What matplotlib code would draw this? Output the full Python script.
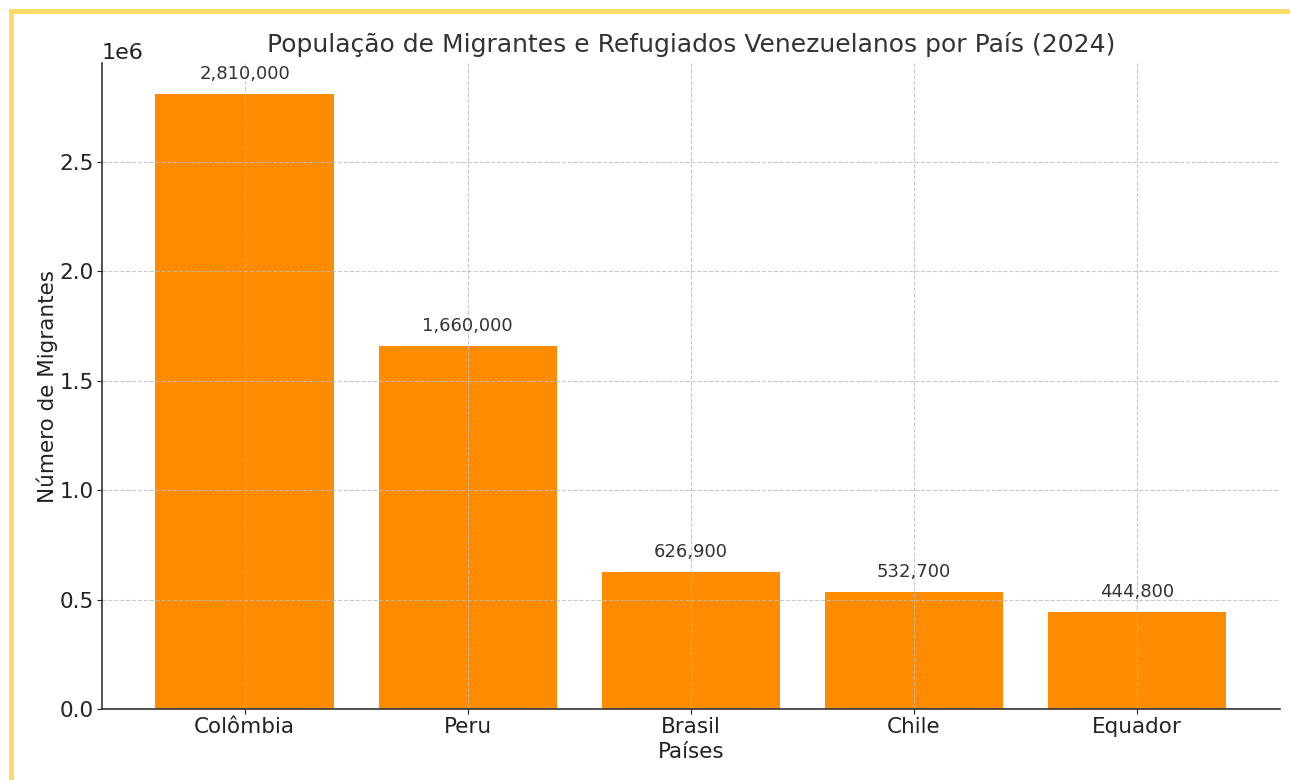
import matplotlib.pyplot as plt
from matplotlib.lines import Line2D

# Dados
paises = ["Colômbia", "Peru", "Brasil", "Chile", "Equador"]
migrantes = [2810000, 1660000, 626900, 532700, 444800]

fig, ax = plt.subplots(figsize=(12.9, 7.8), dpi=100)
fig.subplots_adjust(left=0.079, right=0.992, top=0.919, bottom=0.091)

bars = ax.bar(paises, migrantes, color="#FF8C00", width=0.8)

# rótulos em cima das barras
for b, v in zip(bars, migrantes):
    ax.text(b.get_x() + b.get_width() / 2, v + 50000, f"{v:,}",
            ha="center", va="bottom", fontsize=13, color="#333333")

ax.set_title("População de Migrantes e Refugiados Venezuelanos por País (2024)",
             fontsize=18, color="#333333", pad=8)
ax.set_xlabel("Países", fontsize=15.5, color="#222222", labelpad=3)
ax.set_ylabel("Número de Migrantes", fontsize=15.5, color="#222222", labelpad=1)
ax.tick_params(labelsize=15.5, colors="#222222", pad=2.5)
ax.yaxis.get_offset_text().set_fontsize(16)
ax.grid(True, linestyle="--", color="#bbbbbb", alpha=0.8)
ax.spines["top"].set_visible(False)
ax.spines["right"].set_visible(False)
for s in ("left", "bottom"):
    ax.spines[s].set_color("#333333")
    ax.spines[s].set_linewidth(1.2)

# moldura amarela (topo e esquerda)
fig.add_artist(Line2D([11 / 1290, 1], [1 - 11 / 780, 1 - 11 / 780],
                      transform=fig.transFigure, color="#FFD966", lw=3.5))
fig.add_artist(Line2D([11 / 1290, 11 / 1290], [0, 1 - 11 / 780],
                      transform=fig.transFigure, color="#FFD966", lw=3.5))

fig.savefig("out.png", dpi=100)
